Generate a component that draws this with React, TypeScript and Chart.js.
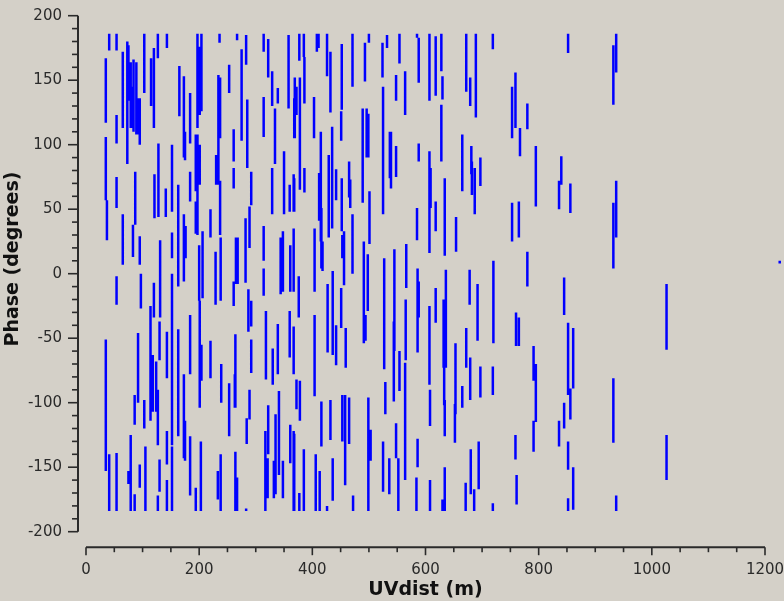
import { useEffect, useRef } from "react";
import { Chart, registerables } from "chart.js";

Chart.register(...registerables);

// Each visibility trace: [uvdist (m), phase top (deg), phase bottom (deg)]
type Trace = [number, number, number];

const tracesBelow200: Trace[] = [
  [41, 186, 173], [54, 186, 173], [103, 186, 140], [127, 186, 167], [143, 186, 175],
  [35, 167, 117], [35, 106, 57], [37, 57, 26], [35, -51, -153], [41, -140, -184],
  [54, 123, 101], [54, 75, 51], [54, -2, -24], [54, -139, -184],
  [65, 172, 113], [65, 46, 7],
  [73, 180, 85], [75, 177, 134], [79, 164, 113], [82, 145, 113], [84, 166, 110],
  [89, 164, 108], [92, 136, 108], [95, 136, 100],
  [87, 79, 38], [83, 38, 13], [95, 29, 7], [79, -125, -184], [75, -153, -163],
  [86, -94, -117], [92, -46, -100], [95, -148, -166], [86, -171, -184],
  [97, 0, -27], [103, -98, -120], [105, -134, -184],
  [114, -25, -114], [118, -63, -107], [121, 77, 43], [120, -7, -34], [115, 167, 130],
  [120, 175, 113], [124, -68, -107], [127, -90, -133],
  [128, 101, 44], [130, -37, -67], [131, 26, -34], [130, -144, -169], [127, -172, -184],
  [141, 66, 44], [143, -45, -81], [143, -122, -148], [143, -160, -184],
  [152, 100, 48], [152, 32, 12], [152, 0, -133], [152, -134, -184],
  [163, 69, -10], [165, 161, 122], [163, -43, -126],
  [173, 153, 90], [173, 46, -6], [173, -78, -143], [175, 110, 88], [176, 37, 12], [175, -114, -145],
  [184, 140, 101], [184, 79, 56], [184, -32, -78], [184, -126, -172],
  [194, 108, 64], [194, 56, 31],
];

const traces200to400: Trace[] = [
  [197, 186, 113], [201, 176, 123], [204, 186, 126], [197, 108, 30], [201, 100, 69],
  [200, 22, -21], [201, -21, -104], [204, -55, -83], [206, 33, -19], [203, -130, -184], [194, -166, -184],
  [220, 50, 28], [220, -52, -81], [229, 17, -24], [230, 92, 69], [236, 186, 179], [234, 154, 69],
  [237, 152, 105], [237, 72, 30], [238, 28, -21], [233, -153, -175], [238, -140, -184], [239, -70, -100],
  [253, 162, 140], [253, -85, -126], [261, 112, 87], [261, 82, 66], [261, -6, -25], [263, -78, -104],
  [264, -47, -104], [264, -138, -184], [265, 28, -8], [268, 28, -8], [267, 186, 181], [267, -158, -184],
  [275, 174, 162], [275, 166, 103], [282, 43, -7], [283, 185, 162], [285, 135, 112], [285, 127, 82],
  [287, -12, -45], [284, -112, -132], [289, -90, -113], [292, 79, 53], [289, 52, 20], [292, -21, -41],
  [292, -51, -77], [283, -182, -184],
  [314, 186, 172], [314, 137, 106], [314, 37, 10], [314, 4, -17], [317, -122, -184], [318, -29, -82],
  [322, -102, -140], [321, -143, -174], [322, 182, 152],
  [329, 157, 130], [329, 82, 46], [330, -58, -86], [332, -145, -174], [334, 128, 85], [335, -109, -171],
  [339, 144, 132], [339, -39, -78], [341, -91, -156],
  [344, 28, -16], [348, 33, -14], [350, 95, 46], [348, -145, -174], [358, 185, 128], [360, 69, 48],
  [361, 22, -14], [360, -29, -65], [361, -117, -147],
  [368, 136, 105], [368, 74, 48], [367, 34, -14], [367, -42, -78], [368, -124, -184],
];

const traces400to600: Trace[] = [
  [369, 152, 105], [372, 145, 123], [377, 186, 165], [378, 152, 65], [385, 186, 168], [386, 168, 132],
  [386, 82, 63], [367, 77, 48], [367, 35, 9], [376, -2, -34], [367, -41, -78], [372, -82, -105],
  [378, -83, -114], [367, -122, -184], [377, -170, -184], [385, -136, -184],
  [403, 137, 105], [404, 35, -14], [404, -32, -95], [406, -140, -184], [408, 186, 172], [411, 186, 175],
  [412, 78, 41], [415, 110, 25], [416, 51, 4], [416, -99, -134], [418, 25, 2], [413, -153, -184],
  [426, 186, 153], [429, 92, 28], [427, -8, -61], [426, -180, -184], [432, 172, 125], [432, -98, -129],
  [435, 114, 35], [436, 2, -63], [436, -143, -176], [442, 81, 57], [442, -40, -71],
  [452, 178, 127], [451, 126, 103], [452, 74, 33], [453, 30, 12], [456, 33, -9], [451, -11, -42],
  [453, -94, -130], [458, -94, -164], [459, -42, -73], [465, -96, -132], [465, 87, 59], [467, 73, 51],
  [471, 46, 0], [471, 186, 145], [472, -172, -184],
  [489, 128, 55], [493, 179, 149], [491, 25, -54], [494, -32, -52], [496, 128, 90], [499, 124, 90],
  [500, 186, 179], [498, 15, -29], [499, -96, -184], [501, 64, 23], [503, -121, -145],
  [524, 179, 152], [525, 145, 46], [527, 12, -74], [529, -84, -109], [525, -130, -169], [537, 110, 74],
  [536, -143, -171], [532, 185, 175],
  [539, 110, 66], [554, 186, 163], [548, 154, 134], [564, 157, 123], [548, 99, 75], [545, 19, -60],
  [544, -37, -99], [566, 23, -11], [565, -20, -67], [564, -69, -160], [554, -60, -91], [548, -116, -143],
  [552, -143, -184],
  [585, 186, 183], [588, 183, 148], [588, 101, 87], [585, 51, 26], [586, 4, -61], [588, -6, -34],
  [586, -128, -150], [584, -158, -184],
];

const traces600to800: Trace[] = [
  [607, 186, 134], [607, 95, 16], [609, 82, 51], [607, -25, -86], [608, -90, -118], [608, -160, -184],
  [618, 184, 138], [618, 56, 33], [618, -11, -38],
  [628, 186, 157], [630, 153, 135], [628, 131, 87], [634, 74, 14], [636, 3, -73], [632, -20, -73],
  [633, -73, -102], [634, -98, -126], [634, -150, -184], [630, -175, -184],
  [654, 44, 17], [653, -54, -109], [652, -101, -131], [665, 108, 64], [665, -87, -104], [672, 186, 141],
  [672, -42, -73], [671, -162, -184], [679, 152, 130], [678, 3, -24], [679, -65, -98], [680, -136, -171],
  [681, 99, 77], [682, 87, 61], [687, 82, 46], [686, -167, -184], [689, 186, 121], [692, -8, -52],
  [694, -130, -167], [697, 90, 68], [697, -72, -96],
  [719, 186, 174], [719, -178, -184], [720, 10, -54], [719, -72, -94],
  [753, 145, 105], [759, 156, 113], [767, 113, 91], [753, 55, 25], [765, 56, 28], [760, -30, -56],
  [765, -34, -56], [759, -125, -144], [761, -156, -179],
  [780, 132, 112], [780, 17, -10], [795, 99, 52], [791, -56, -83], [795, -70, -115], [791, -114, -138],
];

const tracesAbove800: Trace[] = [
  [840, 91, 69], [836, 72, 50], [856, 70, 47], [845, -3, -32], [852, 186, 171], [852, -38, -94],
  [861, -42, -89], [856, -89, -113], [845, -100, -120], [836, -114, -134], [852, -130, -152],
  [861, -150, -183], [852, -174, -184],
  [932, 177, 131], [937, 186, 156], [932, 55, 4], [937, 72, 28], [1026, -8, -59], [932, -81, -131],
  [1026, -125, -160], [937, -172, -184],
  [1226, 10, 8],
];

// Axis ticks
const xMajorTicks = [0, 200, 400, 600, 800, 1000, 1200];
const yMajorTicks = [-200, -150, -100, -50, 0, 50, 100, 150, 200];
const xMinorStep = 50;
const yMinorStep = 10;

const xTitle = "UVdist (m)";
const yTitle = "Phase (degrees)";

const BG = "#d4d0c8";
const TRACE_COLOR = "#0000ff";

const backgroundPlugin = {
  id: "panelBackground",
  beforeDraw(chart: any) {
    const { ctx, width, height } = chart;
    ctx.save();
    ctx.fillStyle = BG;
    ctx.fillRect(0, 0, width, height);
    ctx.restore();
  },
};

// Axes drawn detached from the plotting area, plotms style
const detachedAxesPlugin = {
  id: "detachedAxes",
  afterDraw(chart: any) {
    const { ctx, chartArea, scales } = chart;
    const xs = scales.x;
    const ys = scales.y;
    const yAxisX = chartArea.left - 8;
    const xAxisY = chartArea.bottom + 15.5;
    ctx.save();
    ctx.strokeStyle = "#2a2a2a";
    ctx.fillStyle = "#2a2a2a";

    // y axis
    ctx.lineWidth = 2;
    ctx.beginPath();
    ctx.moveTo(yAxisX, ys.getPixelForValue(200));
    ctx.lineTo(yAxisX, ys.getPixelForValue(-200));
    ctx.stroke();
    ctx.lineWidth = 1.6;
    for (let v = -200; v <= 200; v += yMinorStep) {
      const py = ys.getPixelForValue(v);
      const major = yMajorTicks.includes(v);
      ctx.beginPath();
      ctx.moveTo(yAxisX, py);
      ctx.lineTo(yAxisX - (major ? 10 : 6), py);
      ctx.stroke();
    }
    ctx.font = '15px "DejaVu Sans"';
    ctx.textAlign = "right";
    ctx.textBaseline = "middle";
    for (const v of yMajorTicks) {
      ctx.fillText(String(v), yAxisX - 16, ys.getPixelForValue(v));
    }

    // x axis
    ctx.lineWidth = 2;
    ctx.beginPath();
    ctx.moveTo(xs.getPixelForValue(0), xAxisY);
    ctx.lineTo(xs.getPixelForValue(1200), xAxisY);
    ctx.stroke();
    ctx.lineWidth = 1.6;
    for (let v = 0; v <= 1200; v += xMinorStep) {
      const px = xs.getPixelForValue(v);
      const major = xMajorTicks.includes(v);
      ctx.beginPath();
      ctx.moveTo(px, xAxisY);
      ctx.lineTo(px, xAxisY + (major ? 8 : 5));
      ctx.stroke();
    }
    ctx.textAlign = "center";
    for (const v of xMajorTicks) {
      ctx.fillText(String(v), xs.getPixelForValue(v), xAxisY + 23);
    }

    // titles
    ctx.fillStyle = "#111";
    ctx.font = 'bold 19px "DejaVu Sans"';
    ctx.fillText(xTitle, (chartArea.left + chartArea.right) / 2, 590);
    ctx.translate(13, 259);
    ctx.rotate(-Math.PI / 2);
    ctx.fillText(yTitle, 0, 0);
    ctx.restore();
  },
};

export default function App() {
  const canvasRef = useRef<HTMLCanvasElement | null>(null);

  useEffect(() => {
    document.body.style.margin = "0";
    const canvas = canvasRef.current;
    if (!canvas) return;

    const allTraces = [
      ...tracesBelow200,
      ...traces200to400,
      ...traces400to600,
      ...traces600to800,
      ...tracesAbove800,
    ];
    const points: { x: number; y: number | null }[] = [];
    for (const [u, top, bottom] of allTraces) {
      points.push({ x: u, y: top }, { x: u, y: bottom }, { x: u, y: null });
    }

    const chart = new Chart(canvas, {
      type: "scatter",
      data: {
        datasets: [
          {
            data: points as any,
            showLine: true,
            spanGaps: false,
            borderColor: TRACE_COLOR,
            backgroundColor: TRACE_COLOR,
            borderWidth: 2.5,
            pointRadius: 0,
            tension: 0,
            clip: false as any,
          },
        ],
      },
      options: {
        animation: false,
        responsive: false,
        events: [],
        layout: { padding: { left: 86, right: 19, top: 15.7, bottom: 69.3 } },
        scales: {
          x: { type: "linear", min: 0, max: 1200, display: false },
          y: { type: "linear", min: -200, max: 200, display: false },
        },
        plugins: { legend: { display: false }, tooltip: { enabled: false } },
      },
      plugins: [backgroundPlugin, detachedAxesPlugin],
    });
    return () => chart.destroy();
  }, []);

  return (
    <div style={{ position: "absolute", left: 0, top: 0, width: 784, height: 601 }}>
      <canvas ref={canvasRef} width={784} height={601} />
    </div>
  );
}
